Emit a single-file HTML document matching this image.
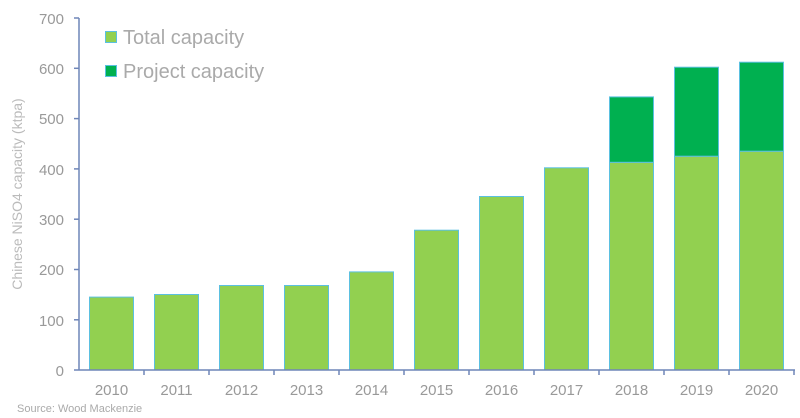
<!DOCTYPE html>
<html><head><meta charset="utf-8"><style>
html,body{margin:0;padding:0;background:#fff;}
svg{display:block;font-family:"Liberation Sans",sans-serif;}
</style></head><body>
<svg width="800" height="418" viewBox="0 0 800 418" xmlns="http://www.w3.org/2000/svg">
<g fill="#92d050" stroke="#5bc0e0" stroke-width="1">
<rect x="89.5" y="297.1" width="44" height="72.9"/>
<rect x="154.5" y="294.5" width="44" height="75.5"/>
<rect x="219.5" y="285.5" width="44" height="84.5"/>
<rect x="284.5" y="285.5" width="44" height="84.5"/>
<rect x="349.5" y="271.9" width="44" height="98.1"/>
<rect x="414.5" y="230.2" width="44" height="139.8"/>
<rect x="479.5" y="196.5" width="44" height="173.5"/>
<rect x="544.5" y="167.8" width="44" height="202.2"/>
<rect x="609.5" y="162.3" width="44" height="207.7"/>
<rect x="674.5" y="156.2" width="44" height="213.8"/>
<rect x="739.5" y="151.2" width="44" height="218.8"/>
</g>
<g fill="#00b050" stroke="#5bc0e0" stroke-width="1">
<rect x="609.5" y="96.9" width="44" height="65.4"/>
<rect x="674.5" y="67.2" width="44" height="89"/>
<rect x="739.5" y="62.2" width="44" height="89"/>
</g>
<g stroke="#6f86b8" stroke-width="1.5" fill="none">
<line x1="79" y1="18" x2="79" y2="370"/>
<line x1="79" y1="370" x2="795" y2="370"/>
<line x1="74" y1="18" x2="79" y2="18"/>
<line x1="74" y1="68.3" x2="79" y2="68.3"/>
<line x1="74" y1="118.6" x2="79" y2="118.6"/>
<line x1="74" y1="168.9" x2="79" y2="168.9"/>
<line x1="74" y1="219.2" x2="79" y2="219.2"/>
<line x1="74" y1="269.5" x2="79" y2="269.5"/>
<line x1="74" y1="319.8" x2="79" y2="319.8"/>
<line x1="74" y1="370" x2="79" y2="370"/>
<line x1="144" y1="370" x2="144" y2="375"/>
<line x1="209" y1="370" x2="209" y2="375"/>
<line x1="274" y1="370" x2="274" y2="375"/>
<line x1="339" y1="370" x2="339" y2="375"/>
<line x1="404" y1="370" x2="404" y2="375"/>
<line x1="469" y1="370" x2="469" y2="375"/>
<line x1="534" y1="370" x2="534" y2="375"/>
<line x1="599" y1="370" x2="599" y2="375"/>
<line x1="664" y1="370" x2="664" y2="375"/>
<line x1="729" y1="370" x2="729" y2="375"/>
<line x1="794" y1="370" x2="794" y2="375"/>
</g>
<g fill="#999" font-size="15" text-anchor="end">
<text x="64" y="24">700</text>
<text x="64" y="74">600</text>
<text x="64" y="124">500</text>
<text x="64" y="175">400</text>
<text x="64" y="225">300</text>
<text x="64" y="275">200</text>
<text x="64" y="326">100</text>
<text x="64" y="376">0</text>
</g>
<g fill="#999" font-size="15" text-anchor="middle">
<text x="111.5" y="395">2010</text>
<text x="176.5" y="395">2011</text>
<text x="241.5" y="395">2012</text>
<text x="306.5" y="395">2013</text>
<text x="371.5" y="395">2014</text>
<text x="436.5" y="395">2015</text>
<text x="501.5" y="395">2016</text>
<text x="566.5" y="395">2017</text>
<text x="631.5" y="395">2018</text>
<text x="696.5" y="395">2019</text>
<text x="761.5" y="395">2020</text>
</g>
<text transform="translate(22,194) rotate(-90)" fill="#bbb" font-size="14" text-anchor="middle">Chinese NiSO4 capacity (ktpa)</text>
<text x="17" y="412" fill="#aaa" font-size="11">Source: Wood Mackenzie</text>
<rect x="105.5" y="31.5" width="11" height="11" fill="#92d050" stroke="#5bc0e0"/>
<rect x="105.5" y="65.5" width="11" height="11" fill="#00b050" stroke="#5bc0e0"/>
<g fill="#aaa" font-size="20">
<text x="123" y="44">Total capacity</text>
<text x="123" y="78">Project capacity</text>
</g>
</svg>
</body></html>
